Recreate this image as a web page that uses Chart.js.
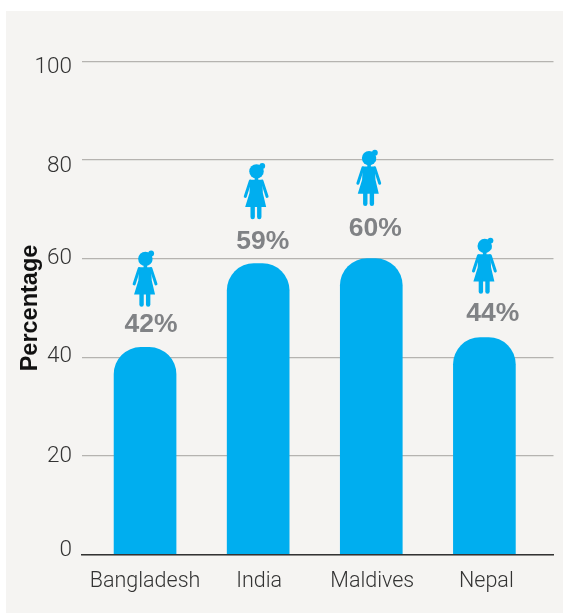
<!DOCTYPE html>
<html><head><meta charset="utf-8">
<style>html,body{margin:0;padding:0;background:#fff;overflow:hidden}canvas{display:block}</style>
<script src="https://cdn.jsdelivr.net/npm/chart.js@4"></script>
</head><body><canvas id="c" width="563" height="613"></canvas>
<script>
const categories = ['Bangladesh','India','Maldives','Nepal'];
const values = [42,59,60,44];
const yTicks = [0,20,40,60,80,100];
const yTitle = 'Percentage';
// annotation placement relative to each bar's top centre (pixels)
const labelShiftX = [6,4.5,4,8.5];
const labelShiftY = [-23,-22,-30,-24];
const iconShiftX = [-0.5,-2.5,-3,-0.5];
const iconShiftY = [-53,-56.7,-65,-56];
// small nudges of axis labels (pixels)
const yLabelNudge = {0:-2,20:0,40:-0.5,60:0,80:3,100:3};
const xLabelNudge = [0,1,1,2];

function nudgeLabels(s,fn){
  const orig=s._computeLabelItems;
  s._computeLabelItems=function(a){
    const items=orig.call(this,a);
    items.forEach((it,i)=>{const t=it.options.translation;const d=fn(this.ticks[i].value);it.options.translation=[t[0]+d[0],t[1]+d[1]];});
    return items;
  };
}

function drawGirl(ctx,cx,hemY){
  // cx = dress centre, hemY = bottom of dress
  ctx.save();ctx.translate(cx,hemY);ctx.fillStyle='#00aeef';ctx.strokeStyle='#00aeef';
  ctx.beginPath();ctx.arc(0.8,-35.6,7.2,0,Math.PI*2);ctx.fill();
  ctx.beginPath();ctx.arc(6.6,-41,2.9,0,Math.PI*2);ctx.fill();
  ctx.beginPath();ctx.moveTo(4,-42);ctx.quadraticCurveTo(8.5,-38,7.4,-32);ctx.lineTo(3,-37);ctx.closePath();ctx.fill();
  // neck and dress
  ctx.fillRect(-1,-30,3.6,4);
  ctx.beginPath();ctx.moveTo(-5.5,-27.3);ctx.lineTo(6.5,-27.3);ctx.lineTo(7.2,-14);ctx.lineTo(10.5,0);ctx.lineTo(-10.5,0);ctx.lineTo(-6.2,-14);ctx.closePath();ctx.fill();
  // arms
  ctx.lineCap='round';ctx.lineWidth=3;
  ctx.beginPath();ctx.moveTo(-5.4,-25.8);ctx.lineTo(-10.4,-10.5);ctx.stroke();
  ctx.beginPath();ctx.moveTo(6.4,-25.8);ctx.lineTo(11.4,-10.5);ctx.stroke();
  // legs
  ctx.lineWidth=4.4;
  ctx.beginPath();ctx.moveTo(-3,-1);ctx.lineTo(-3,10);ctx.stroke();
  ctx.beginPath();ctx.moveTo(3.6,-1);ctx.lineTo(3.6,10);ctx.stroke();
  ctx.restore();
}

const panel = {id:'panel',beforeDraw(ch){const c=ch.ctx;c.save();c.fillStyle='#f5f4f2';c.fillRect(6,11,557,602);c.restore();}};
const notes = {id:'notes',afterDatasetsDraw(ch){
  const c=ch.ctx;const m=ch.getDatasetMeta(0);
  m.data.forEach((b,i)=>{
    drawGirl(c,b.x+iconShiftX[i],b.y+iconShiftY[i]);
    c.save();c.fillStyle='#808285';c.font='bold 26.5px "Liberation Sans"';c.textAlign='center';c.textBaseline='middle';
    c.fillText(values[i]+'%',b.x+labelShiftX[i],b.y+labelShiftY[i]);c.restore();
  });
}};

new Chart(document.getElementById('c'),{
  type:'bar',
  data:{labels:categories,datasets:[{
    data:values.map((v,i)=>({x:i,y:v})),
    backgroundColor:'#00aeef',barThickness:62,
    borderRadius:{topLeft:27,topRight:27,bottomLeft:0,bottomRight:0},borderSkipped:'bottom'
  }]},
  plugins:[panel,notes],
  options:{
    responsive:false,animation:false,devicePixelRatio:1,
    layout:{padding:{top:61.5,right:9.5,left:0,bottom:0}},
    plugins:{legend:{display:false},tooltip:{enabled:false}},
    scales:{
      x:{type:'linear',offset:false,min:-0.5575,max:3.611,
        afterBuildTicks(s){s.ticks=categories.map((_,i)=>({value:i}));},
        afterFit(s){s.height=58.5;nudgeLabels(s,v=>[xLabelNudge[v]||0,0]);},
        grid:{display:false},
        border:{display:true,color:'#333333',width:1.6,z:2},
        ticks:{autoSkip:false,maxRotation:0,padding:6,color:'#333333',font:{family:'Roboto',weight:300,size:21.5},
          callback:v=>categories[v]}},
      y:{min:0,max:100,
        afterBuildTicks(s){s.ticks=yTicks.map(v=>({value:v}));},
        afterFit(s){s.width=82;nudgeLabels(s,v=>[0,yLabelNudge[v]||0]);},
        grid:{color:'#b5b3b0',lineWidth:1.2,drawTicks:false},
        border:{display:false},
        title:{display:true,text:yTitle,color:'#111111',font:{family:'Liberation Sans',weight:'bold',size:23.5},padding:{top:16,bottom:0}},
        ticks:{padding:10,color:'#333333',font:{family:'Roboto',weight:300,size:22.5}}}
    }
  }
});
</script></body></html>
